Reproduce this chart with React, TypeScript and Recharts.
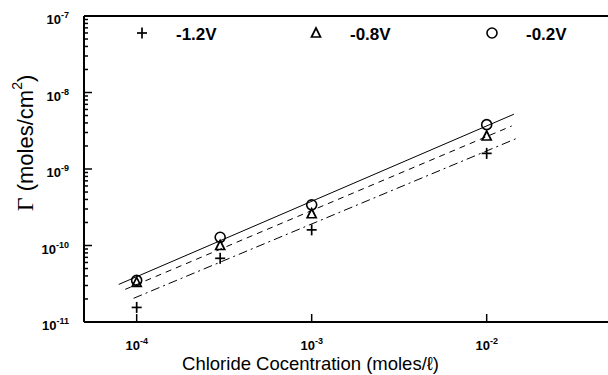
import React from "react";
import {
  ComposedChart,
  Line,
  Scatter,
  XAxis,
  YAxis,
  ReferenceLine,
  Label,
} from "recharts";

// measured concentrations (mol/l)
const concentrations = [1e-4, 3e-4, 1e-3, 1e-2];

// surface excess per applied potential (mol/cm2)
const gammaMinus12 = [1.55e-11, 6.8e-11, 1.6e-10, 1.6e-9];
const gammaMinus08 = [3.3e-11, 1.0e-10, 2.6e-10, 2.7e-9];
const gammaMinus02 = [3.5e-11, 1.28e-10, 3.4e-10, 3.8e-9];

// fitted straight lines (end points)
const fitMinus02 = [
  { x: 7.9e-5, y: 3.1e-11 },
  { x: 1.43e-2, y: 5.2e-9 },
];
const fitMinus08 = [
  { x: 8.6e-5, y: 2.67e-11 },
  { x: 1.39e-2, y: 3.65e-9 },
];
const fitMinus12 = [
  { x: 9.6e-5, y: 2.04e-11 },
  { x: 1.52e-2, y: 2.57e-9 },
];

const xTickExponents = [-4, -3, -2];
const yTickExponents = [-11, -10, -9, -8, -7];
const minorSteps = [2, 3, 4, 5, 6, 7, 8, 9];

const legendItems = [
  { label: "-1.2V", marker: "plus" },
  { label: "-0.8V", marker: "triangle" },
  { label: "-0.2V", marker: "circle" },
];

const FONT = "'Liberation Sans', Arial, Helvetica, sans-serif";

const toPoints = (ys: number[]) => concentrations.map((x, i) => ({ x, y: ys[i] }));

const xTicks = xTickExponents.map((e) => Math.pow(10, e));
const yTicks: number[] = [];
yTickExponents.forEach((e, i) => {
  yTicks.push(Math.pow(10, e));
  if (i < yTickExponents.length - 1) {
    minorSteps.forEach((m) => yTicks.push(m * Math.pow(10, e)));
  }
});

function Marker({ kind, cx, cy }: { kind: string; cx: number; cy: number }) {
  if (kind === "plus") {
    return (
      <g stroke="#000" strokeWidth={1.7}>
        <line x1={cx - 5} y1={cy} x2={cx + 5} y2={cy} />
        <line x1={cx} y1={cy - 5.5} x2={cx} y2={cy + 5.5} />
      </g>
    );
  }
  if (kind === "triangle") {
    return (
      <polygon
        points={`${cx},${cy - 5} ${cx - 4.5},${cy + 4} ${cx + 4.5},${cy + 4}`}
        fill="none"
        stroke="#000"
        strokeWidth={1.7}
      />
    );
  }
  return <circle cx={cx} cy={cy} r={5} fill="none" stroke="#000" strokeWidth={1.6} />;
}

function exponentOf(v: number) {
  return Math.round(Math.log10(v));
}

function isDecade(v: number) {
  const e = Math.log10(v);
  return Math.abs(e - Math.round(e)) < 1e-6;
}

function YTick(props: any) {
  const { x, y, payload } = props;
  const v = payload.value;
  const major = isDecade(v);
  return (
    <g>
      <line x1={x} y1={y} x2={x + (major ? 8 : 4)} y2={y} stroke="#000" strokeWidth={1.5} />
      {major && (
        <text x={x - 15} y={y + 8} textAnchor="end" fontFamily={FONT} fontWeight="bold" fontSize={13} fill="#000">
          10
          <tspan dy={-6} fontSize={9}>
            {exponentOf(v)}
          </tspan>
        </text>
      )}
    </g>
  );
}

function XTick(props: any) {
  const { x, y, payload } = props;
  const v = payload.value;
  return (
    <g>
      <line x1={x} y1={y} x2={x} y2={y - 8} stroke="#000" strokeWidth={1.5} />
      <text x={x} y={y + 28} textAnchor="middle" fontFamily={FONT} fontWeight="bold" fontSize={13} fill="#000">
        10
        <tspan dy={-6} fontSize={9}>
          {exponentOf(v)}
        </tspan>
      </text>
    </g>
  );
}

function YTitle(props: any) {
  const { viewBox } = props;
  const cx = viewBox.x + 25;
  const cy = viewBox.y + viewBox.height / 2 - 26;
  return (
    <text
      x={cx}
      y={cy}
      transform={`rotate(-90 ${cx} ${cy})`}
      textAnchor="middle"
      dominantBaseline="central"
      fontFamily={FONT}
      fontSize={22}
      fill="#000"
    >
      <tspan fontFamily="'Liberation Serif', 'Times New Roman', serif" fontSize={24}>
        Γ
      </tspan>
      <tspan> (moles/cm</tspan>
      <tspan dy={-8} fontSize={14}>
        2
      </tspan>
      <tspan dy={8}>)</tspan>
    </text>
  );
}

function ChartLegend() {
  const slots = [142, 316, 492];
  return (
    <svg width={608} height={30} style={{ position: "absolute", left: 0, top: 18 }}>
      {legendItems.map((item, i) => (
        <g key={item.label}>
          <Marker kind={item.marker} cx={slots[i]} cy={15} />
          <text x={slots[i] + 34} y={21.5} fontFamily={FONT} fontWeight="bold" fontSize={17} fill="#000">
            {item.label}
          </text>
        </g>
      ))}
    </svg>
  );
}

export default function App() {
  return (
    <div style={{ position: "absolute", left: 0, top: 0, width: 608, height: 375, overflow: "hidden", background: "#fff" }}>
      <ComposedChart width={610} height={375} margin={{ top: 16, right: 1, bottom: 0, left: 0 }}>
        <XAxis
          dataKey="x"
          type="number"
          scale="log"
          domain={[5e-5, 5e-2]}
          ticks={xTicks}
          interval={0}
          allowDataOverflow
          height={53}
          tickSize={0}
          tickMargin={0}
          tickLine={false}
          tick={<XTick />}
          axisLine={{ stroke: "#000", strokeWidth: 2 }}
        >
          <Label
            value="Chloride Cocentration (moles/ℓ)"
            position="insideBottom"
            offset={5}
            dx={-36}
            style={{ fontFamily: FONT, fontSize: 18.5, fill: "#000" }}
          />
        </XAxis>
        <YAxis
          type="number"
          scale="log"
          domain={[1e-11, 1e-7]}
          ticks={yTicks}
          interval={0}
          allowDataOverflow
          width={84}
          tickSize={0}
          tickMargin={0}
          tickLine={false}
          tick={<YTick />}
          axisLine={{ stroke: "#000", strokeWidth: 2 }}
        >
          <Label content={<YTitle />} />
        </YAxis>
        <ReferenceLine y={1e-7} stroke="#000" strokeWidth={2} />

        <Line data={fitMinus02} dataKey="y" stroke="#000" strokeWidth={1} dot={false} isAnimationActive={false} />
        <Line data={fitMinus08} dataKey="y" stroke="#000" strokeWidth={1} strokeDasharray="6 5" dot={false} isAnimationActive={false} />
        <Line data={fitMinus12} dataKey="y" stroke="#000" strokeWidth={1} strokeDasharray="9 4 2 4" dot={false} isAnimationActive={false} />

        <Scatter data={toPoints(gammaMinus12)} dataKey="y" isAnimationActive={false} shape={(p: any) => <Marker kind="plus" cx={p.cx} cy={p.cy} />} />
        <Scatter data={toPoints(gammaMinus08)} dataKey="y" isAnimationActive={false} shape={(p: any) => <Marker kind="triangle" cx={p.cx} cy={p.cy} />} />
        <Scatter data={toPoints(gammaMinus02)} dataKey="y" isAnimationActive={false} shape={(p: any) => <Marker kind="circle" cx={p.cx} cy={p.cy} />} />
      </ComposedChart>
      <ChartLegend />
    </div>
  );
}
